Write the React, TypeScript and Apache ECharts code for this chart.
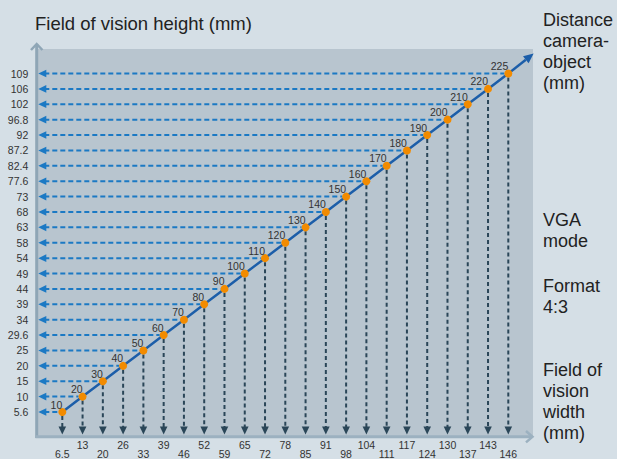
import React, { useEffect, useRef } from "react";
import * as echarts from "echarts";

const xLabels = ["6.5","13","20","26","33","39","46","52","59","65","72","78","85","91","98","104","111","117","124","130","137","143","146"];
const yLabels = ["5.6","10","15","20","25","29.6","34","39","44","49","54","58","63","68","73","77.6","82.4","87.2","92","96.8","102","106","109"];
const distances = [10,20,30,40,50,60,70,80,90,100,110,120,130,140,150,160,170,180,190,200,210,220,225];

const titleText = "Field of vision height (mm)";
const sideTexts = [
  { text: "Distance\ncamera-\nobject\n(mm)", top: 9.5 },
  { text: "VGA\nmode", top: 209.5 },
  { text: "Format\n4:3", top: 275.5 },
  { text: "Field of\nvision\nwidth\n(mm)", top: 359.5 },
];

const FONT = "'Liberation Sans', Arial, sans-serif";
const LINE_BLUE = "#1c5ea9";
const H_DASH = "#1b79c4";
const V_DASH = "#2a4658";
const AXIS_C = "#8fa6b6";

export default function App() {
  const ref = useRef<HTMLDivElement>(null);
  useEffect(() => {
    document.body.style.margin = "0";
    const chart = echarts.init(ref.current!, null, { renderer: "svg" });
    const pairs = xLabels.map((x, i) => [x, yLabels[i]]);
    const last = xLabels.length - 1;
    chart.setOption({
      animation: false,
      backgroundColor: "#d5dfe6",
      textStyle: { fontFamily: FONT },
      grid: { left: 62.3, right: 108.7, top: 73.5, bottom: 46.5, containLabel: false },
      xAxis: {
        type: "category",
        data: xLabels,
        boundaryGap: false,
        axisLine: { show: false },
        axisTick: { show: false },
        splitLine: { show: false },
        axisLabel: {
          interval: 0,
          margin: 26.5,
          fontSize: 10.5,
          color: "#333",
          formatter: (v: string, i: number) => (i % 2 === 0 ? `{lo|${v}}` : `{hi|${v}}`),
          rich: {
            hi: { fontSize: 10.5, lineHeight: 13, color: "#333", fontFamily: FONT },
            lo: { fontSize: 10.5, lineHeight: 30, color: "#333", fontFamily: FONT },
          },
        },
      },
      yAxis: {
        type: "category",
        data: yLabels,
        boundaryGap: false,
        axisLine: { show: false },
        axisTick: { show: false },
        splitLine: { show: false },
        axisLabel: { interval: 0, margin: 34, fontSize: 10.5, color: "#333" },
      },
      graphic: [
        { type: "rect", z: -10, shape: { x: 37, y: 49, width: 496, height: 388 }, style: { fill: "#b8c5cf" } },
        { type: "line", shape: { x1: 36.7, y1: 438, x2: 36.7, y2: 44 }, style: { stroke: AXIS_C, lineWidth: 3 } },
        { type: "polyline", shape: { points: [[31, 50], [36.7, 44], [42.4, 50]] }, style: { stroke: AXIS_C, lineWidth: 2.5, fill: null } },
        { type: "line", shape: { x1: 35.5, y1: 436.7, x2: 532, y2: 436.7 }, style: { stroke: "#9cb1c0", lineWidth: 3 } },
        { type: "polyline", shape: { points: [[526, 431], [532.5, 436.7], [526, 442.4]] }, style: { stroke: "#9cb1c0", lineWidth: 2.5, fill: null } },
        { type: "text", x: 35, y: 23, style: { text: titleText, fontSize: 18.5, fontFamily: FONT, fill: "#222", verticalAlign: "middle" } },
        ...sideTexts.map((t) => ({
          type: "text",
          x: 543,
          y: t.top,
          style: { text: t.text, fontSize: 18, lineHeight: 21, fontFamily: FONT, fill: "#222", verticalAlign: "top" },
        })),
      ],
      series: [
        {
          type: "custom",
          z: 1,
          silent: true,
          data: pairs,
          renderItem: (params: any, api: any) => {
            const vx = api.value(0);
            const vy = api.value(1);
            const p = api.coord([vx, vy]);
            const cs = params.coordSys;
            const leftTip = cs.x - 24;
            const bottomTip = cs.y + cs.height + 22.5;
            const children: any[] = [
              { type: "line", shape: { x1: leftTip + 6, y1: p[1], x2: p[0] - 4, y2: p[1] }, style: { stroke: H_DASH, lineWidth: 2, lineDash: [5, 3] } },
              { type: "polygon", shape: { points: [[leftTip, p[1]], [leftTip + 8, p[1] - 3.8], [leftTip + 8, p[1] + 3.8]] }, style: { fill: H_DASH } },
              { type: "line", shape: { x1: p[0], y1: p[1] + 4, x2: p[0], y2: bottomTip - 7 }, style: { stroke: V_DASH, lineWidth: 2, lineDash: [4, 3] } },
              { type: "polygon", shape: { points: [[p[0], bottomTip], [p[0] - 3.8, bottomTip - 8], [p[0] + 3.8, bottomTip - 8]] }, style: { fill: V_DASH } },
            ];
            if (params.dataIndex === last) {
              const prev = api.coord([vx - 1, vy - 1]);
              const dx = (p[0] - prev[0]) * 1.25;
              const dy = (p[1] - prev[1]) * 1.3;
              const ex = p[0] + dx;
              const ey = p[1] + dy;
              const len = Math.sqrt(dx * dx + dy * dy);
              const ux = dx / len;
              const uy = dy / len;
              const bx = ex - ux * 10;
              const by = ey - uy * 10;
              const nx = -uy;
              const ny = ux;
              children.push(
                { type: "line", z2: 5, shape: { x1: p[0], y1: p[1], x2: bx, y2: by }, style: { stroke: LINE_BLUE, lineWidth: 2.5 } },
                { type: "polygon", z2: 5, shape: { points: [[ex, ey], [bx + nx * 4.5, by + ny * 4.5], [bx - nx * 4.5, by - ny * 4.5]] }, style: { fill: LINE_BLUE } }
              );
            }
            return { type: "group", children };
          },
        },
        {
          type: "line",
          z: 3,
          data: pairs,
          lineStyle: { color: LINE_BLUE, width: 2.5 },
          symbol: "circle",
          symbolSize: 8,
          itemStyle: { color: "#f28b00" },
          label: {
            show: true,
            position: "left",
            distance: 0,
            offset: [4, -7.5],
            fontSize: 10.5,
            color: "#333",
            formatter: (p: any) => String(distances[p.dataIndex]),
          },
        },
      ],
    });
    return () => chart.dispose();
  }, []);
  return <div ref={ref} style={{ width: 617, height: 459 }} />;
}
